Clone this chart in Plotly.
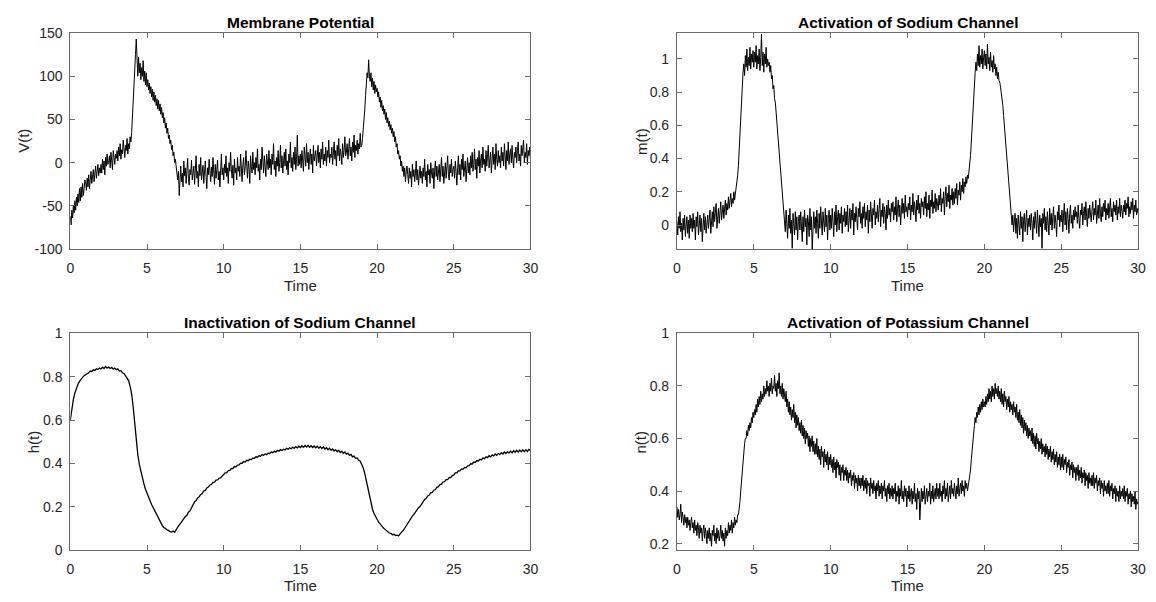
import numpy as np
import plotly.graph_objects as go

# ---------------- data ----------------
# V, m and n are sampled every 0.05 time units, h every 0.1 time units
V_DT, M_DT, N_DT, H_DT = 0.05, 0.05, 0.05, 0.1
x_ticks = [0, 5, 10, 15, 20, 25, 30]

# Membrane potential V(t)
V = [
    -62, -72, -55, -64, -50, -58, -44, -55, -40, -50, -36, -46, -30, -44, -28, -40, -24, -38, -30, -20,
    -22, -32, -18, -28, -14, -30, -20, -10, -24, -16, -8, -22, -12, -4, -18, -10, -2, -15, -6, -12,
    -2, -12, 4, -8, 2, -14, 6, -4, 10, -2, 0, 8, -6, 12, 2, -8, 14, 4, -2, 10,
    5, 14, 2, 18, 8, 22, 4, 15, 10, 26, 12, 6, 20, 14, 28, 10, 22, 16, 30, 24,
    35, 50, 68, 90, 108, 125, 143, 112, 100, 122, 104, 115, 96, 110, 100, 118, 94, 106, 90, 104,
    88, 96, 84, 92, 80, 88, 76, 85, 72, 82, 70, 78, 66, 74, 62, 72, 60, 68, 56, 64,
    52, 58, 46, 52, 40, 46, 34, 40, 28, 32, 22, 26, 15, 20, 8, 12, 0, 4, -8, -12,
    -20, -10, -38, -18, -4, -22, -12, -28, 2, -15, -6, -24, -10, 5, -18, -26, -8, -14, 3, -20,
    -12, -4, -25, -8, 8, -18, -10, -28, -2, -15, 6, -20, -12, -3, -24, -8, 2, -16, -30, -6,
    -14, 4, -10, -22, -5, -16, 6, -12, -25, -2, -18, -8, 3, -20, -10, -28, -4, 10, -14, -6,
    -20, -2, -12, 8, -16, -6, -24, 0, -10, 12, -8, -18, -3, -26, 4, -12, -6, -20, 6, -10,
    -4, -16, 10, -8, -22, -2, 6, -14, -6, 14, -10, -18, 2, -6, -24, 8, -4, -12, 12, -8,
    0, -14, 6, -6, 16, -10, -2, -20, 4, -8, 18, -4, -12, 8, -2, -16, 10, 0, -8, 14,
    -6, 4, -14, 10, -2, 22, -8, 2, -16, 6, -4, 14, -10, 0, 20, -6, 8, -12, 4, 12,
    -4, 16, -8, 2, -14, 10, 0, 24, -6, 6, -10, 12, -2, 18, -8, 4, 32, -4, 8, -2,
    10, -6, 14, 2, -10, 18, 4, -4, 22, 0, 12, -8, 6, 16, -2, 10, -12, 20, 2, 8,
    14, -4, 8, 20, 0, 12, -6, 16, 4, 24, -2, 10, 2, 18, -4, 14, 6, 26, 0, 10,
    6, 18, -2, 12, 24, 4, 14, -4, 20, 8, 28, 2, 16, 10, -2, 22, 6, 14, 30, 8,
    12, 22, 4, 16, 28, 8, 18, 2, 24, 12, 32, 6, 20, 14, 26, 10, 22, 16, 34, 18,
    20, 28, 38, 52, 62, 78, 90, 104, 98, 119, 100, 94, 104, 88, 98, 84, 94, 80, 90, 82,
    86, 76, 82, 70, 76, 64, 72, 60, 66, 56, 62, 50, 58, 46, 52, 42, 48, 38, 44, 34,
    40, 30, 36, 24, 30, 18, 22, 10, 14, 4, 8, -4, 2, -10, -4, -16, -6, -22, -10, -4,
    -14, -24, -6, -18, -10, -28, -2, -16, -8, -22, -12, 2, -20, -8, -26, -14, -4, -18, -10, -24,
    -6, -16, 4, -20, -10, -28, -2, -14, -8, -24, 0, -12, -18, -6, -30, -10, 2, -16, -4, -20,
    -12, -2, -22, -8, 6, -16, -4, -24, -10, 0, -18, -6, 8, -14, -20, -2, -12, 4, -16, -8,
    -4, -18, 2, -10, -26, -6, 8, -14, -2, -20, 4, -8, 10, -16, -6, 2, -22, -4, 6, -12,
    0, -14, 8, -6, 12, -10, -2, 16, -8, 4, -18, 6, -4, 14, -12, 2, 10, -6, 18, -2,
    4, -10, 14, -4, 8, 20, -6, 2, 12, -12, 6, 18, -2, 10, -8, 22, 4, -4, 14, 0,
    8, -6, 18, 2, 12, -4, 22, 6, -8, 14, 2, 24, -2, 10, 16, 0, 20, 4, -6, 12,
    6, 18, 0, 14, 24, 2, 10, -4, 20, 8, 16, 26, 0, 12, 6, 22, -2, 14, 8, 18,
    4,
]

# Activation of sodium channel m(t)
m = [
    0.02, -0.06, 0.05, -0.02, 0.08, -0.04, 0.01, -0.09, 0.04, -0.03, 0.06, -0.07, 0.0, 0.05, -0.05, 0.03, -0.08, 0.06, -0.02, 0.04,
    -0.04, 0.07, -0.02, 0.03, -0.09, 0.05, -0.01, 0.08, -0.06, 0.02, 0.06, -0.04, 0.04, -0.1, 0.03, 0.07, -0.03, 0.05, -0.05, 0.02,
    0.06, -0.02, 0.04, 0.09, -0.05, 0.03, 0.08, -0.01, 0.11, 0.02, 0.07, 0.13, -0.02, 0.06, 0.1, 0.01, 0.08, 0.14, 0.03, 0.09,
    0.12, 0.04, 0.1, 0.15, 0.06, 0.13, 0.09, 0.17, 0.1, 0.14, 0.19, 0.11, 0.16, 0.13, 0.2, 0.15, 0.18, 0.22, 0.25, 0.3,
    0.36, 0.45, 0.56, 0.68, 0.8, 0.88, 0.92, 0.97, 0.9, 1.02, 0.95, 1.06, 0.93, 1.01, 0.96, 1.07, 0.94, 1.03, 0.98, 1.05,
    0.95, 1.04, 0.98, 1.08, 0.94, 1.02, 0.97, 1.06, 0.93, 1.01, 1.15, 0.96, 1.04, 0.92, 1.03, 0.97, 1.07, 0.95, 1.0, 0.96,
    0.98, 0.92, 0.96, 0.88, 0.9, 0.82, 0.84, 0.76, 0.74, 0.68, 0.62, 0.56, 0.5, 0.44, 0.37, 0.3, 0.24, 0.18, 0.12, 0.07,
    0.04, -0.04, 0.09, 0.0, -0.08, 0.06, -0.02, 0.1, -0.05, 0.03, -0.14, 0.07, 0.01, -0.06, 0.08, -0.03, 0.05, -0.09, 0.02, 0.06,
    -0.03, 0.08, 0.0, -0.1, 0.05, -0.04, 0.09, -0.01, 0.04, -0.12, 0.06, 0.02, -0.07, 0.1, -0.03, 0.05, -0.15, 0.03, 0.08, -0.02,
    0.05, -0.05, 0.09, 0.01, -0.08, 0.07, -0.02, 0.11, 0.0, -0.06, 0.08, 0.03, -0.04, 0.1, -0.01, 0.06, -0.09, 0.04, 0.09, -0.03,
    0.06, -0.02, 0.1, 0.02, -0.07, 0.08, 0.0, 0.12, -0.04, 0.05, 0.09, -0.03, 0.07, 0.01, 0.11, -0.05, 0.06, 0.02, 0.1, -0.01,
    0.08, 0.0, 0.12, -0.04, 0.06, 0.1, -0.02, 0.09, 0.03, 0.13, -0.06, 0.07, 0.02, 0.11, 0.04, -0.03, 0.1, 0.05, 0.14, 0.01,
    0.07, -0.02, 0.11, 0.04, 0.13, -0.01, 0.08, 0.03, 0.12, -0.05, 0.09, 0.02, 0.14, 0.05, -0.02, 0.1, 0.06, 0.15, 0.0, 0.08,
    0.04, 0.12, 0.02, 0.1, 0.16, -0.01, 0.09, 0.05, 0.13, 0.01, 0.11, 0.07, -0.03, 0.12, 0.04, 0.15, 0.06, 0.1, 0.02, 0.13,
    0.08, 0.14, 0.03, 0.11, 0.06, 0.17, 0.02, 0.1, 0.15, 0.05, 0.12, 0.0, 0.09, 0.16, 0.07, 0.13, 0.04, 0.18, 0.08, 0.11,
    0.05, 0.13, 0.09, 0.17, 0.03, 0.12, 0.08, 0.19, 0.06, 0.14, 0.1, 0.02, 0.15, 0.09, 0.18, 0.07, 0.13, 0.04, 0.16, 0.11,
    0.14, 0.06, 0.17, 0.1, 0.2, 0.05, 0.13, 0.09, 0.18, 0.04, 0.15, 0.11, 0.21, 0.07, 0.14, 0.1, 0.19, 0.08, 0.16, 0.12,
    0.09, 0.18, 0.12, 0.22, 0.08, 0.16, 0.13, 0.2, 0.06, 0.17, 0.23, 0.11, 0.19, 0.14, 0.24, 0.1, 0.18, 0.15, 0.22, 0.12,
    0.2, 0.13, 0.22, 0.16, 0.25, 0.12, 0.21, 0.18, 0.26, 0.15, 0.24, 0.2, 0.28, 0.19, 0.26, 0.23, 0.29, 0.25, 0.3, 0.28,
    0.32, 0.36, 0.42, 0.5, 0.6, 0.7, 0.8, 0.87, 0.92, 0.98, 0.93, 1.03, 0.96, 1.08, 0.95, 1.02, 0.97, 1.06, 0.94, 1.01,
    1.05, 0.96, 1.03, 0.94, 1.09, 0.97, 1.01, 0.93, 1.04, 0.95, 0.99, 0.92, 1.02, 0.94, 0.97, 0.9, 0.95, 0.88, 0.92, 0.87,
    0.86, 0.83, 0.8, 0.76, 0.72, 0.66, 0.6, 0.54, 0.47, 0.4, 0.33, 0.26, 0.2, 0.14, 0.08, 0.04, 0.0, 0.06, -0.04, 0.03,
    0.07, -0.05, 0.04, -0.08, 0.06, 0.0, -0.06, 0.08, -0.02, 0.05, -0.1, 0.03, 0.07, -0.04, 0.02, 0.09, -0.06, 0.04, -0.01, 0.06,
    -0.03, 0.07, 0.01, -0.09, 0.05, -0.02, 0.08, 0.0, -0.05, 0.09, 0.02, -0.07, 0.06, -0.01, 0.04, -0.14, 0.07, 0.01, 0.1, -0.03,
    0.05, -0.04, 0.08, 0.02, -0.06, 0.1, 0.0, 0.07, -0.03, 0.05, 0.11, -0.02, 0.06, 0.01, -0.07, 0.08, 0.03, 0.12, -0.01, 0.06,
    0.02, 0.09, -0.04, 0.06, 0.13, 0.0, 0.08, -0.03, 0.1, 0.04, -0.05, 0.07, 0.12, 0.01, 0.06, -0.02, 0.09, 0.03, 0.11, 0.05,
    0.08, 0.01, 0.12, 0.04, -0.02, 0.09, 0.06, 0.13, 0.0, 0.07, 0.11, 0.03, 0.14, 0.05, -0.01, 0.1, 0.04, 0.12, 0.07, 0.02,
    0.09, 0.14, 0.03, 0.1, 0.06, 0.15, 0.01, 0.08, 0.12, 0.04, 0.16, 0.07, 0.02, 0.11, 0.05, 0.13, 0.08, 0.15, 0.03, 0.1,
    0.06, 0.13, 0.04, 0.11, 0.16, 0.05, 0.1, 0.02, 0.14, 0.08, 0.12, 0.06, 0.15, 0.03, 0.11, 0.07, 0.16, 0.05, 0.12, 0.09,
    0.04, 0.12, 0.08, 0.15, 0.06, 0.13, 0.1, 0.17, 0.05, 0.11, 0.07, 0.14, 0.09, 0.16, 0.04, 0.12, 0.08, 0.15, 0.06, 0.1,
    0.07,
]

# Inactivation of sodium channel h(t)
h = [
    0.6, 0.655, 0.695, 0.725, 0.748, 0.765, 0.778, 0.79, 0.797, 0.805,
    0.809, 0.816, 0.818, 0.826, 0.824, 0.832, 0.829, 0.837, 0.833, 0.84,
    0.836, 0.844, 0.838, 0.847, 0.84, 0.845, 0.838, 0.843, 0.835, 0.84,
    0.832, 0.836, 0.826, 0.828, 0.818, 0.815, 0.805, 0.798, 0.782, 0.755,
    0.72, 0.66, 0.58, 0.5, 0.44, 0.395, 0.36, 0.33, 0.305, 0.28,
    0.26, 0.243, 0.226, 0.21, 0.196, 0.182, 0.166, 0.15, 0.133, 0.124,
    0.112, 0.103, 0.1, 0.092, 0.09, 0.084, 0.082, 0.087, 0.081, 0.093,
    0.106, 0.116, 0.124, 0.135, 0.142, 0.155, 0.16, 0.174, 0.18, 0.194,
    0.212, 0.222, 0.228, 0.24, 0.245, 0.256, 0.26, 0.272, 0.275, 0.286,
    0.29, 0.3, 0.302, 0.312, 0.313, 0.322, 0.323, 0.332, 0.333, 0.34,
    0.345, 0.356, 0.357, 0.366, 0.367, 0.376, 0.376, 0.385, 0.384, 0.392,
    0.393, 0.401, 0.4, 0.408, 0.406, 0.414, 0.412, 0.419, 0.417, 0.424,
    0.423, 0.43, 0.428, 0.435, 0.432, 0.44, 0.437, 0.443, 0.44, 0.447,
    0.445, 0.452, 0.449, 0.456, 0.452, 0.46, 0.456, 0.463, 0.459, 0.465,
    0.462, 0.469, 0.465, 0.472, 0.467, 0.475, 0.469, 0.477, 0.471, 0.479,
    0.473, 0.481, 0.474, 0.482, 0.475, 0.483, 0.474, 0.481, 0.473, 0.48,
    0.472, 0.479, 0.47, 0.477, 0.468, 0.475, 0.466, 0.472, 0.463, 0.47,
    0.46, 0.466, 0.457, 0.463, 0.453, 0.46, 0.45, 0.456, 0.446, 0.452,
    0.442, 0.447, 0.437, 0.441, 0.43, 0.433, 0.423, 0.425, 0.414, 0.41,
    0.395, 0.378, 0.352, 0.318, 0.282, 0.246, 0.212, 0.188, 0.168, 0.152,
    0.14, 0.128, 0.12, 0.11, 0.102, 0.096, 0.089, 0.085, 0.078, 0.076,
    0.07, 0.072, 0.066, 0.068, 0.065, 0.074, 0.08, 0.09, 0.1, 0.112,
    0.124, 0.135, 0.144, 0.156, 0.164, 0.176, 0.183, 0.195, 0.2, 0.212,
    0.222, 0.233, 0.238, 0.249, 0.253, 0.264, 0.266, 0.276, 0.279, 0.289,
    0.292, 0.302, 0.304, 0.314, 0.315, 0.325, 0.325, 0.334, 0.334, 0.343,
    0.346, 0.356, 0.356, 0.365, 0.365, 0.374, 0.372, 0.381, 0.379, 0.388,
    0.389, 0.398, 0.397, 0.406, 0.404, 0.413, 0.41, 0.419, 0.416, 0.425,
    0.421, 0.43, 0.426, 0.435, 0.43, 0.439, 0.434, 0.443, 0.437, 0.446,
    0.44, 0.449, 0.443, 0.452, 0.445, 0.454, 0.447, 0.456, 0.449, 0.458,
    0.451, 0.46, 0.452, 0.461, 0.453, 0.462, 0.454, 0.463, 0.455, 0.464,
    0.46,
]

# Activation of potassium channel n(t)
n = [
    0.34, 0.3, 0.33, 0.29, 0.31, 0.35, 0.28, 0.32, 0.3, 0.27, 0.31, 0.28, 0.3, 0.26, 0.3, 0.27, 0.29, 0.25, 0.28, 0.3,
    0.26, 0.28, 0.24, 0.29, 0.25, 0.27, 0.23, 0.28, 0.26, 0.22, 0.27, 0.24, 0.26, 0.21, 0.25, 0.27, 0.22, 0.26, 0.24, 0.2,
    0.25, 0.22, 0.26, 0.21, 0.24, 0.19, 0.25, 0.23, 0.27, 0.21, 0.24, 0.2, 0.26, 0.22, 0.25, 0.21, 0.23, 0.27, 0.22, 0.25,
    0.21, 0.24, 0.19, 0.26, 0.22, 0.25, 0.23, 0.28, 0.24, 0.27, 0.25, 0.29, 0.24, 0.28, 0.26, 0.3, 0.27, 0.29, 0.28, 0.31,
    0.31, 0.33, 0.36, 0.4, 0.44, 0.48, 0.52, 0.55, 0.58, 0.6, 0.6, 0.63, 0.61, 0.65, 0.63, 0.66, 0.64, 0.68, 0.66, 0.7,
    0.68, 0.71, 0.69, 0.73, 0.7, 0.75, 0.72, 0.76, 0.73, 0.78, 0.74, 0.77, 0.75, 0.8, 0.76, 0.79, 0.77, 0.82, 0.78, 0.8,
    0.76, 0.81, 0.78, 0.83, 0.77, 0.8, 0.79, 0.84, 0.78, 0.81, 0.76, 0.82, 0.79, 0.85, 0.77, 0.8, 0.76, 0.81, 0.75, 0.79,
    0.77, 0.74, 0.78, 0.72, 0.75, 0.7, 0.74, 0.69, 0.72, 0.67, 0.71, 0.68, 0.73, 0.66, 0.7, 0.64, 0.69, 0.65, 0.68, 0.63,
    0.66, 0.62, 0.67, 0.61, 0.65, 0.6, 0.64, 0.58, 0.63, 0.6, 0.62, 0.57, 0.61, 0.55, 0.6, 0.57, 0.61, 0.55, 0.59, 0.54,
    0.58, 0.54, 0.6, 0.53, 0.57, 0.52, 0.56, 0.5, 0.57, 0.53, 0.55, 0.49, 0.56, 0.51, 0.54, 0.5, 0.55, 0.48, 0.53, 0.5,
    0.54, 0.49, 0.52, 0.47, 0.53, 0.48, 0.51, 0.45, 0.52, 0.49, 0.51, 0.46, 0.5, 0.44, 0.49, 0.47, 0.5, 0.44, 0.48, 0.46,
    0.49, 0.44, 0.48, 0.43, 0.47, 0.45, 0.48, 0.42, 0.46, 0.44, 0.47, 0.41, 0.46, 0.43, 0.45, 0.4, 0.46, 0.42, 0.45, 0.41,
    0.45, 0.42, 0.46, 0.4, 0.44, 0.41, 0.45, 0.39, 0.44, 0.42, 0.43, 0.38, 0.45, 0.41, 0.43, 0.39, 0.44, 0.4, 0.42, 0.37,
    0.43, 0.4, 0.44, 0.38, 0.42, 0.39, 0.43, 0.37, 0.42, 0.4, 0.44, 0.38, 0.41, 0.36, 0.42, 0.39, 0.43, 0.37, 0.41, 0.38,
    0.42, 0.37, 0.41, 0.39, 0.43, 0.36, 0.4, 0.38, 0.42, 0.35, 0.41, 0.38, 0.44, 0.37, 0.4, 0.36, 0.42, 0.38, 0.41, 0.34,
    0.4, 0.37, 0.42, 0.36, 0.39, 0.41, 0.35, 0.4, 0.37, 0.43, 0.36, 0.39, 0.33, 0.41, 0.37, 0.4, 0.29, 0.38, 0.41, 0.36,
    0.4, 0.37, 0.42, 0.35, 0.39, 0.41, 0.36, 0.4, 0.38, 0.43, 0.35, 0.4, 0.37, 0.42, 0.36, 0.39, 0.41, 0.37, 0.43, 0.38,
    0.41, 0.37, 0.43, 0.38, 0.4, 0.36, 0.42, 0.39, 0.44, 0.37, 0.41, 0.38, 0.43, 0.36, 0.4, 0.42, 0.37, 0.44, 0.39, 0.41,
    0.38, 0.43, 0.4, 0.37, 0.42, 0.39, 0.45, 0.38, 0.41, 0.43, 0.39, 0.44, 0.4, 0.42, 0.38, 0.44, 0.41, 0.43, 0.4, 0.42,
    0.44, 0.45, 0.48, 0.52, 0.56, 0.6, 0.63, 0.65, 0.68, 0.66, 0.7, 0.68, 0.72, 0.69, 0.73, 0.7, 0.74, 0.71, 0.75, 0.72,
    0.74, 0.72, 0.76, 0.73, 0.77, 0.74, 0.79, 0.75, 0.78, 0.74, 0.8, 0.76, 0.79, 0.75, 0.81, 0.77, 0.79, 0.76, 0.8, 0.75,
    0.78, 0.74, 0.79, 0.73, 0.77, 0.72, 0.78, 0.74, 0.76, 0.71, 0.75, 0.72, 0.76, 0.7, 0.74, 0.71, 0.73, 0.69, 0.74, 0.7,
    0.72, 0.68, 0.73, 0.67, 0.7, 0.66, 0.71, 0.65, 0.69, 0.64, 0.68, 0.62, 0.67, 0.63, 0.66, 0.61, 0.65, 0.6, 0.64, 0.61,
    0.63, 0.59, 0.64, 0.58, 0.62, 0.57, 0.61, 0.56, 0.62, 0.58, 0.6, 0.55, 0.59, 0.56, 0.6, 0.54, 0.58, 0.55, 0.57, 0.53,
    0.58, 0.54, 0.57, 0.52, 0.56, 0.53, 0.57, 0.51, 0.55, 0.52, 0.56, 0.5, 0.54, 0.51, 0.55, 0.49, 0.53, 0.5, 0.54, 0.48,
    0.53, 0.49, 0.54, 0.48, 0.52, 0.5, 0.53, 0.47, 0.51, 0.49, 0.52, 0.46, 0.5, 0.48, 0.51, 0.45, 0.5, 0.47, 0.49, 0.44,
    0.49, 0.46, 0.5, 0.44, 0.48, 0.45, 0.49, 0.43, 0.47, 0.45, 0.48, 0.42, 0.47, 0.44, 0.46, 0.41, 0.47, 0.43, 0.45, 0.42,
    0.46, 0.42, 0.47, 0.41, 0.45, 0.43, 0.46, 0.4, 0.44, 0.42, 0.45, 0.39, 0.44, 0.41, 0.43, 0.38, 0.44, 0.4, 0.42, 0.39,
    0.43, 0.39, 0.44, 0.38, 0.42, 0.4, 0.43, 0.37, 0.41, 0.39, 0.42, 0.36, 0.41, 0.38, 0.4, 0.36, 0.42, 0.37, 0.4, 0.38,
    0.41, 0.37, 0.42, 0.36, 0.4, 0.38, 0.41, 0.35, 0.39, 0.37, 0.4, 0.34, 0.39, 0.36, 0.38, 0.35, 0.4, 0.33, 0.37, 0.35,
    0.36,
]

titles = ["Membrane Potential", "Activation of Sodium Channel",
          "Inactivation of Sodium Channel", "Activation of Potassium Channel"]
y_labels = ["V(t)", "m(t)", "h(t)", "n(t)"]
x_label = "Time"

V_ticks = [-100, -50, 0, 50, 100, 150]
m_ticks = [0, 0.2, 0.4, 0.6, 0.8, 1]
h_ticks = [0, 0.2, 0.4, 0.6, 0.8, 1]
n_ticks = [0.2, 0.4, 0.6, 0.8, 1]
tick_text = {0: "0", 0.2: "0.2", 0.4: "0.4", 0.6: "0.6", 0.8: "0.8", 1: "1"}

# ---------------- layout geometry (pixels of a 1156 x 602 canvas) ----------------
W, H = 1156, 602
col_px = [(67, 532), (680, 1146)]
row_px = [(25.7, 247.7), (334.3, 556.7)]
ranges = [(-100, 150), (-0.145, 1.156), (0, 1), (0.176, 1)]
series = [V, m, h, n]
steps = [V_DT, M_DT, H_DT, N_DT]
widths = [1.0, 1.0, 1.3, 1.0]
yticks = [V_ticks, m_ticks, h_ticks, n_ticks]
ylab_x = [19, 643.5, 30, 643.5]

FONT = "Arial, Liberation Sans, Helvetica, sans-serif"
AX_COLOR = "#6a6a6a"
TXT_COLOR = "#262626"

fig = go.Figure()
annotations = []
for k in range(4):
    r, c = divmod(k, 2)
    (x0, x1), (y0, y1) = col_px[c], row_px[r]
    suffix = "" if k == 0 else str(k + 1)
    tt = np.round(np.arange(len(series[k])) * steps[k], 3)
    fig.add_trace(go.Scatter(
        x=tt, y=series[k], mode="lines",
        line=dict(color="black", width=widths[k]),
        xaxis="x" + suffix, yaxis="y" + suffix,
        showlegend=False, hoverinfo="skip",
    ))
    common = dict(
        showline=True, linecolor=AX_COLOR, linewidth=1, mirror="allticks",
        ticks="inside", ticklen=5, tickwidth=1, tickcolor=AX_COLOR,
        showgrid=False, zeroline=False,
        tickfont=dict(family=FONT, size=14, color=TXT_COLOR),
    )
    fig.update_layout(**{
        "xaxis" + suffix: dict(
            domain=[x0 / W, x1 / W], range=[0, 30], anchor="y" + suffix,
            tickvals=x_ticks, ticktext=[str(v) for v in x_ticks],
            ticklabelstandoff=6, **common),
        "yaxis" + suffix: dict(
            domain=[1 - y1 / H, 1 - y0 / H], range=list(ranges[k]), anchor="x" + suffix,
            tickvals=yticks[k],
            ticktext=[tick_text.get(v, str(v)) for v in yticks[k]],
            ticklabelstandoff=4, **common),
    })
    xc = (x0 + x1) / 2 / W
    title_y = 14.5 if r == 0 else 323.3
    time_y = 285 if r == 0 else 593
    annotations.append(dict(
        text="<b>" + titles[k] + "</b>", x=xc, y=1 - title_y / H, xref="paper", yref="paper",
        xanchor="center", yanchor="middle", showarrow=False,
        font=dict(family=FONT, size=15.5, color="black")))
    annotations.append(dict(
        text=x_label, x=xc, y=1 - time_y / H, xref="paper", yref="paper",
        xanchor="center", yanchor="middle", showarrow=False,
        font=dict(family=FONT, size=15, color=TXT_COLOR)))
    annotations.append(dict(
        text=y_labels[k], x=ylab_x[k] / W, y=1 - (y0 + y1) / 2 / H, xref="paper", yref="paper",
        xanchor="center", yanchor="middle", showarrow=False, textangle=-90,
        font=dict(family=FONT, size=15, color=TXT_COLOR)))

fig.update_layout(
    width=W, height=H, margin=dict(l=0, r=0, t=0, b=0),
    paper_bgcolor="white", plot_bgcolor="white",
    annotations=annotations,
)

fig.write_html("out.html", config={"displayModeBar": False})
